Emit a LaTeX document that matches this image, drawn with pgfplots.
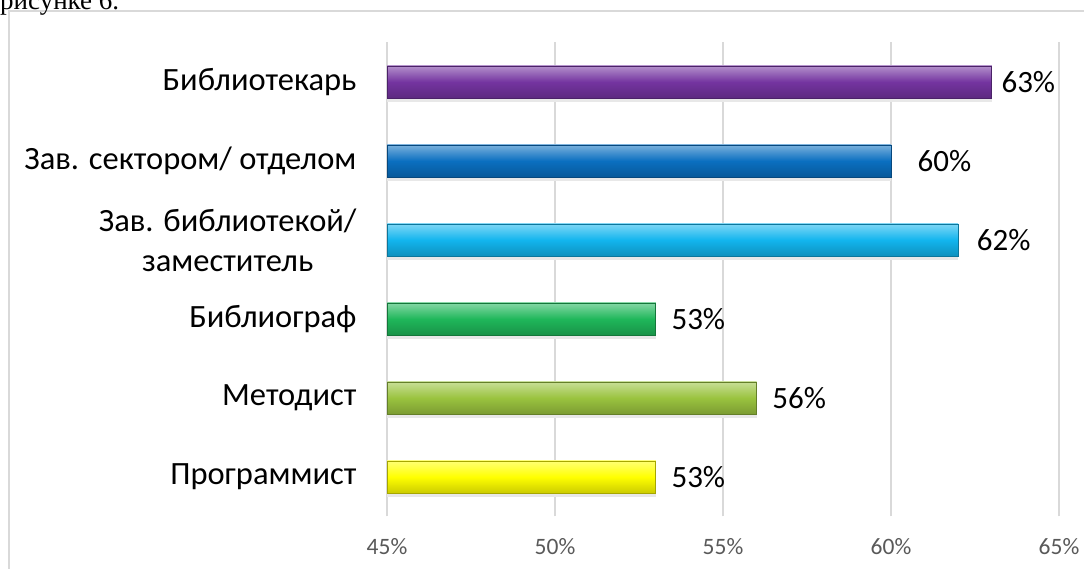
\documentclass[border=0pt]{standalone}
\usepackage{fontspec}
\setmainfont{Carlito}
\newfontfamily\seriffont{Liberation Serif}
\usepackage{pgfplots}
\pgfplotsset{compat=1.18}
\definecolor{gridc}{HTML}{D9D9D9}
\definecolor{tickc}{HTML}{595959}
\definecolor{cPurple}{HTML}{7434A0}
\definecolor{cBlue}{HTML}{0A6FC0}
\definecolor{cCyan}{HTML}{12B5EE}
\definecolor{cGreen}{HTML}{1FB75A}
\definecolor{cOlive}{HTML}{9AC33F}
\definecolor{cYellow}{HTML}{FFFF00}
\pgfplotsset{
  bev/.style={draw=#1!65!black, line width=0.8pt, top color=#1!55!white, bottom color=#1!80!black, middle color=#1,
    nodes near coords={\pgfmathprintnumber{\pgfplotspointmeta}\%}},
  shad/.style={fill=black!9, draw=none, bar shift=-4pt},
}
\begin{document}
\begin{tikzpicture}[x=1pt,y=1pt]
\draw[gridc, line width=1.5pt] (9,-20) -- (9,558) -- (1100,558);
\node[anchor=base west, font=\seriffont\fontsize{27}{30}\selectfont, inner sep=0] at (0,559.5) {рисунке 6.};
\begin{axis}[
  at={(387pt,52.5pt)}, anchor=south west,
  width=672pt, height=474pt, scale only axis,
  xmin=45, xmax=65, ymin=-0.5, ymax=5.5,
  xbar, bar width=32pt, bar shift=0pt,
  axis line style={draw=none}, major tick length=0pt,
  xtick={45,50,55,60,65},
  xmajorgrids, grid style={gridc, line width=1.3pt},
  ytick={0,1,2,3,4,5},
  yticklabels={Программист, Методист, Библиограф, {Зав. библиотекой/\\заместитель}, Зав. сектором/ отделом, Библиотекарь},
  yticklabel style={align=center, font=\fontsize{32.5}{40}\selectfont, xshift=-27pt},
  /pgf/number format/assume math mode=true,
  xticklabel={\pgfmathprintnumber{\tick}\%},
  xticklabel style={font=\fontsize{23.5}{27}\selectfont, text=tickc, yshift=-18pt},
  every node near coord/.append style={font=\fontsize{31}{35}\selectfont, text=black, xshift=6pt},
]
\addplot[shad] coordinates {(53,0)};
\addplot[shad] coordinates {(56,1)};
\addplot[shad] coordinates {(53,2)};
\addplot[shad] coordinates {(62,3)};
\addplot[shad] coordinates {(60,4)};
\addplot[shad] coordinates {(63,5)};
\addplot[bev=cYellow, every node near coord/.append style={xshift=6pt}] coordinates {(53,0)};
\addplot[bev=cOlive, every node near coord/.append style={xshift=6pt}] coordinates {(56,1)};
\addplot[bev=cGreen, every node near coord/.append style={xshift=6pt}] coordinates {(53,2)};
\addplot[bev=cCyan, every node near coord/.append style={xshift=9pt}] coordinates {(62,3)};
\addplot[bev=cBlue, every node near coord/.append style={xshift=17pt}] coordinates {(60,4)};
\addplot[bev=cPurple, every node near coord/.append style={xshift=0pt}] coordinates {(63,5)};
\end{axis}
\pgfresetboundingbox
\path[use as bounding box] (0,0) rectangle (1084,569);
\end{tikzpicture}
\end{document}
